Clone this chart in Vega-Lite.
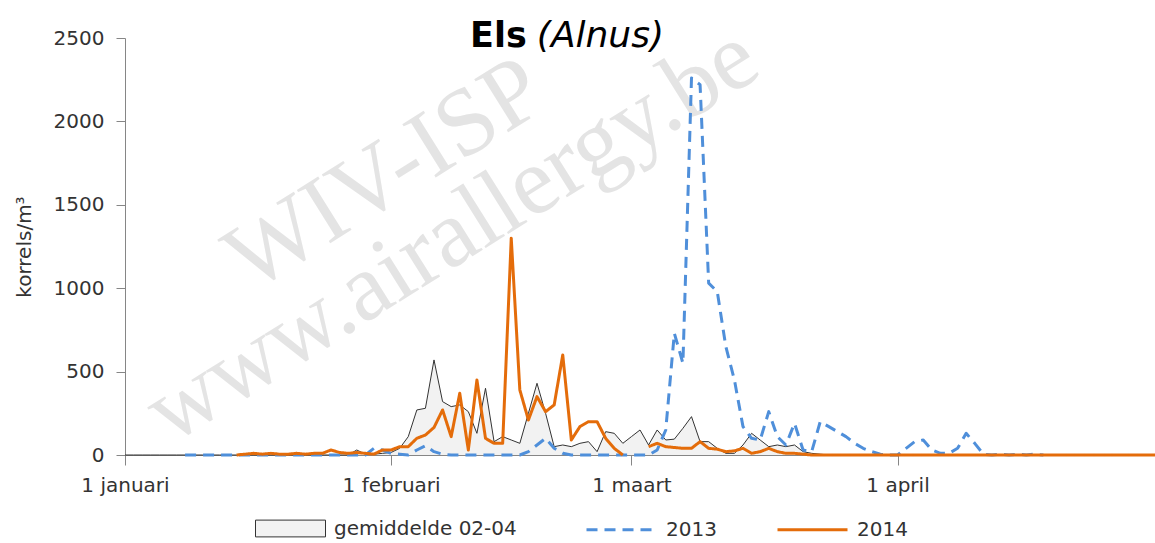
{
  "$schema": "https://vega.github.io/schema/vega-lite/v6.json",
  "width": 1030,
  "height": 417,
  "autosize": {"type": "none"},
  "padding": {"left": 125, "top": 38, "right": 0, "bottom": 88},
  "background": "white",
  "data": {"values": [
    {"d":0,"avg":0,"y2013":null,"y2014":null},
    {"d":1,"avg":0,"y2013":null,"y2014":null},
    {"d":2,"avg":0,"y2013":null,"y2014":null},
    {"d":3,"avg":0,"y2013":null,"y2014":null},
    {"d":4,"avg":0,"y2013":null,"y2014":null},
    {"d":5,"avg":0,"y2013":null,"y2014":null},
    {"d":6,"avg":0,"y2013":null,"y2014":null},
    {"d":7,"avg":0,"y2013":0,"y2014":null},
    {"d":8,"avg":0,"y2013":0,"y2014":null},
    {"d":9,"avg":0,"y2013":0,"y2014":null},
    {"d":10,"avg":0,"y2013":0,"y2014":null},
    {"d":11,"avg":0,"y2013":0,"y2014":null},
    {"d":12,"avg":0,"y2013":0,"y2014":null},
    {"d":13,"avg":0,"y2013":0,"y2014":0},
    {"d":14,"avg":0,"y2013":0,"y2014":5},
    {"d":15,"avg":0,"y2013":0,"y2014":10},
    {"d":16,"avg":0,"y2013":0,"y2014":5},
    {"d":17,"avg":0,"y2013":0,"y2014":10},
    {"d":18,"avg":0,"y2013":0,"y2014":5},
    {"d":19,"avg":0,"y2013":0,"y2014":5},
    {"d":20,"avg":0,"y2013":0,"y2014":10},
    {"d":21,"avg":0,"y2013":0,"y2014":5},
    {"d":22,"avg":0,"y2013":0,"y2014":10},
    {"d":23,"avg":0,"y2013":0,"y2014":10},
    {"d":24,"avg":0,"y2013":0,"y2014":30},
    {"d":25,"avg":0,"y2013":0,"y2014":15},
    {"d":26,"avg":0,"y2013":0,"y2014":10},
    {"d":27,"avg":30,"y2013":0,"y2014":15},
    {"d":28,"avg":5,"y2013":0,"y2014":10},
    {"d":29,"avg":5,"y2013":40,"y2014":5},
    {"d":30,"avg":10,"y2013":30,"y2014":30},
    {"d":31,"avg":15,"y2013":10,"y2014":30},
    {"d":32,"avg":40,"y2013":5,"y2014":50},
    {"d":33,"avg":110,"y2013":0,"y2014":50},
    {"d":34,"avg":270,"y2013":30,"y2014":100},
    {"d":35,"avg":280,"y2013":55,"y2014":120},
    {"d":36,"avg":570,"y2013":20,"y2014":165},
    {"d":37,"avg":320,"y2013":5,"y2014":270},
    {"d":38,"avg":290,"y2013":0,"y2014":110},
    {"d":39,"avg":300,"y2013":0,"y2014":370},
    {"d":40,"avg":260,"y2013":0,"y2014":30},
    {"d":41,"avg":130,"y2013":0,"y2014":450},
    {"d":42,"avg":400,"y2013":0,"y2014":100},
    {"d":43,"avg":80,"y2013":0,"y2014":70},
    {"d":44,"avg":110,"y2013":0,"y2014":70},
    {"d":45,"avg":90,"y2013":0,"y2014":1300},
    {"d":46,"avg":70,"y2013":0,"y2014":390},
    {"d":47,"avg":250,"y2013":20,"y2014":210},
    {"d":48,"avg":430,"y2013":60,"y2014":350},
    {"d":49,"avg":250,"y2013":100,"y2014":260},
    {"d":50,"avg":50,"y2013":40,"y2014":300},
    {"d":51,"avg":60,"y2013":10,"y2014":600},
    {"d":52,"avg":50,"y2013":0,"y2014":90},
    {"d":53,"avg":70,"y2013":0,"y2014":170},
    {"d":54,"avg":80,"y2013":0,"y2014":200},
    {"d":55,"avg":20,"y2013":0,"y2014":200},
    {"d":56,"avg":140,"y2013":0,"y2014":100},
    {"d":57,"avg":130,"y2013":0,"y2014":40},
    {"d":58,"avg":70,"y2013":0,"y2014":0},
    {"d":59,"avg":110,"y2013":0,"y2014":null},
    {"d":60,"avg":150,"y2013":0,"y2014":null},
    {"d":61,"avg":60,"y2013":0,"y2014":50},
    {"d":62,"avg":150,"y2013":30,"y2014":70},
    {"d":63,"avg":90,"y2013":150,"y2014":50},
    {"d":64,"avg":95,"y2013":730,"y2014":45},
    {"d":65,"avg":160,"y2013":550,"y2014":40},
    {"d":66,"avg":230,"y2013":2260,"y2014":40},
    {"d":67,"avg":80,"y2013":2220,"y2014":80},
    {"d":68,"avg":80,"y2013":1030,"y2014":40},
    {"d":69,"avg":40,"y2013":980,"y2014":35},
    {"d":70,"avg":10,"y2013":650,"y2014":20},
    {"d":71,"avg":10,"y2013":450,"y2014":25},
    {"d":72,"avg":60,"y2013":170,"y2014":40},
    {"d":73,"avg":130,"y2013":100,"y2014":10},
    {"d":74,"avg":90,"y2013":90,"y2014":20},
    {"d":75,"avg":50,"y2013":260,"y2014":40},
    {"d":76,"avg":60,"y2013":110,"y2014":20},
    {"d":77,"avg":50,"y2013":60,"y2014":10},
    {"d":78,"avg":60,"y2013":190,"y2014":10},
    {"d":79,"avg":20,"y2013":30,"y2014":5},
    {"d":80,"avg":10,"y2013":20,"y2014":0},
    {"d":81,"avg":5,"y2013":200,"y2014":0},
    {"d":82,"avg":0,"y2013":170,"y2014":0},
    {"d":83,"avg":0,"y2013":140,"y2014":0},
    {"d":84,"avg":0,"y2013":110,"y2014":0},
    {"d":85,"avg":0,"y2013":70,"y2014":0},
    {"d":86,"avg":0,"y2013":40,"y2014":0},
    {"d":87,"avg":0,"y2013":20,"y2014":0},
    {"d":88,"avg":0,"y2013":5,"y2014":0},
    {"d":89,"avg":0,"y2013":0,"y2014":0},
    {"d":90,"avg":0,"y2013":0,"y2014":0},
    {"d":91,"avg":0,"y2013":40,"y2014":0},
    {"d":92,"avg":0,"y2013":80,"y2014":0},
    {"d":93,"avg":0,"y2013":90,"y2014":0},
    {"d":94,"avg":0,"y2013":30,"y2014":0},
    {"d":95,"avg":0,"y2013":10,"y2014":0},
    {"d":96,"avg":0,"y2013":10,"y2014":0},
    {"d":97,"avg":0,"y2013":40,"y2014":0},
    {"d":98,"avg":0,"y2013":130,"y2014":0},
    {"d":99,"avg":0,"y2013":70,"y2014":0},
    {"d":100,"avg":0,"y2013":5,"y2014":0},
    {"d":101,"avg":0,"y2013":0,"y2014":0},
    {"d":102,"avg":0,"y2013":5,"y2014":0},
    {"d":103,"avg":0,"y2013":0,"y2014":0},
    {"d":104,"avg":0,"y2013":5,"y2014":0},
    {"d":105,"avg":0,"y2013":0,"y2014":0},
    {"d":106,"avg":0,"y2013":5,"y2014":0},
    {"d":107,"avg":0,"y2013":0,"y2014":0},
    {"d":108,"avg":0,"y2013":null,"y2014":0},
    {"d":109,"avg":0,"y2013":null,"y2014":0},
    {"d":110,"avg":0,"y2013":null,"y2014":0},
    {"d":111,"avg":0,"y2013":null,"y2014":0},
    {"d":112,"avg":0,"y2013":null,"y2014":0},
    {"d":113,"avg":0,"y2013":null,"y2014":0},
    {"d":114,"avg":0,"y2013":null,"y2014":0},
    {"d":115,"avg":0,"y2013":null,"y2014":0},
    {"d":116,"avg":0,"y2013":null,"y2014":0},
    {"d":117,"avg":0,"y2013":null,"y2014":0},
    {"d":118,"avg":0,"y2013":null,"y2014":0},
    {"d":119,"avg":0,"y2013":null,"y2014":0},
    {"d":120,"avg":0,"y2013":null,"y2014":0}
  ]},
  "layer": [
    {
      "data": {"values": [{}]},
      "mark": {"type": "text", "text": "WIV-ISP", "font": "Liberation Serif", "fontSize": 96, "angle": -32, "align": "center", "baseline": "middle", "fill": "#e4e4e4"},
      "encoding": {
        "x": {"datum": 30.3, "type": "quantitative"},
        "y": {"datum": 1680, "type": "quantitative"}
      }
    },
    {
      "data": {"values": [{}]},
      "mark": {"type": "text", "text": "www.airallergy.be", "font": "Liberation Serif", "fontSize": 96, "angle": -32, "align": "center", "baseline": "middle", "fill": "#e4e4e4"},
      "encoding": {
        "x": {"datum": 38.1, "type": "quantitative"},
        "y": {"datum": 1320, "type": "quantitative"}
      }
    },
    {
      "mark": {"type": "area"},
      "encoding": {
        "x": {"field": "d", "type": "quantitative", "scale": {"domain": [0, 120], "nice": false, "zero": false},
          "axis": {"values": [0, 31, 59, 90], "title": null, "tickSize": 10, "labelPadding": 10, "labelFlush": false, "labelOverlap": false,
            "labelExpr": "datum.value == 0 ? '1 januari' : datum.value == 31 ? '1 februari' : datum.value == 59 ? '1 maart' : '1 april'"}},
        "y": {"field": "avg", "type": "quantitative", "scale": {"domain": [0, 2500], "nice": false},
          "axis": {"values": [0, 500, 1000, 1500, 2000, 2500], "format": "d", "title": "korrels/m³", "tickSize": 9, "labelPadding": 12, "titlePadding": 19}},
        "fill": {"datum": "gemiddelde 02-04", "type": "nominal",
          "scale": {"range": ["#f2f2f2"]},
          "legend": {"orient": "none", "legendX": 130, "legendY": 455, "title": null,
            "symbolType": "M-1,-0.24H1V0.24H-1Z", "symbolSize": 4900, "symbolStrokeColor": "#333333", "symbolStrokeWidth": 1,
            "labelFont": "DejaVu Sans", "labelFontSize": 20, "labelColor": "#333333", "labelOffset": 8, "labelLimit": 400}}
      }
    },
    {
      "mark": {"type": "line", "color": "#333333", "strokeWidth": 1, "strokeJoin": "round"},
      "encoding": {
        "x": {"field": "d", "type": "quantitative"},
        "y": {"field": "avg", "type": "quantitative"}
      }
    },
    {
      "transform": [{"fold": ["y2013", "y2014"], "as": ["series", "v"]}],
      "mark": {"type": "line", "strokeWidth": 3, "strokeJoin": "round", "strokeCap": "butt"},
      "encoding": {
        "x": {"field": "d", "type": "quantitative"},
        "y": {"field": "v", "type": "quantitative"},
        "color": {"field": "series", "type": "nominal",
          "scale": {"domain": ["y2013", "y2014"], "range": ["#4F8FDA", "#E46C0A"]},
          "legend": {"orient": "none", "legendX": 460, "legendY": 455, "direction": "horizontal", "title": null,
            "symbolType": "stroke", "symbolSize": 4900, "symbolStrokeWidth": 3,
            "labelFont": "DejaVu Sans", "labelFontSize": 20, "labelColor": "#333333", "labelOffset": 8, "columnPadding": 54,
            "labelExpr": "datum.label == 'y2013' ? '2013' : '2014'"}},
        "strokeDash": {"field": "series", "type": "nominal",
          "scale": {"domain": ["y2013", "y2014"], "range": [[11, 7], [1, 0]]},
          "legend": {"orient": "none", "legendX": 460, "legendY": 455, "direction": "horizontal", "title": null,
            "symbolType": "stroke", "symbolSize": 4900, "symbolStrokeWidth": 3,
            "labelFont": "DejaVu Sans", "labelFontSize": 20, "labelColor": "#333333", "labelOffset": 8, "columnPadding": 54,
            "labelExpr": "datum.label == 'y2013' ? '2013' : '2014'"}}
      }
    },
    {
      "data": {"values": [{}]},
      "mark": {"type": "text", "text": "Els", "font": "DejaVu Sans", "fontSize": 35, "fontWeight": "bold", "align": "right", "baseline": "alphabetic", "dx": -5, "fill": "#000000"},
      "encoding": {
        "x": {"datum": 47.4, "type": "quantitative"},
        "y": {"datum": 2446, "type": "quantitative"}
      }
    },
    {
      "data": {"values": [{}]},
      "mark": {"type": "text", "text": "(Alnus)", "font": "DejaVu Sans", "fontSize": 36, "fontStyle": "italic", "align": "left", "baseline": "alphabetic", "dx": 5, "fill": "#000000"},
      "encoding": {
        "x": {"datum": 47.4, "type": "quantitative"},
        "y": {"datum": 2446, "type": "quantitative"}
      }
    }
  ],
  "config": {
    "view": {"stroke": null},
    "font": "DejaVu Sans",
    "axis": {
      "grid": false,
      "domainColor": "#868686",
      "tickColor": "#868686",
      "labelColor": "#333333",
      "titleColor": "#333333",
      "labelFont": "DejaVu Sans",
      "labelFontSize": 20,
      "titleFont": "DejaVu Sans",
      "titleFontSize": 20,
      "titleFontWeight": "normal"
    }
  }
}
